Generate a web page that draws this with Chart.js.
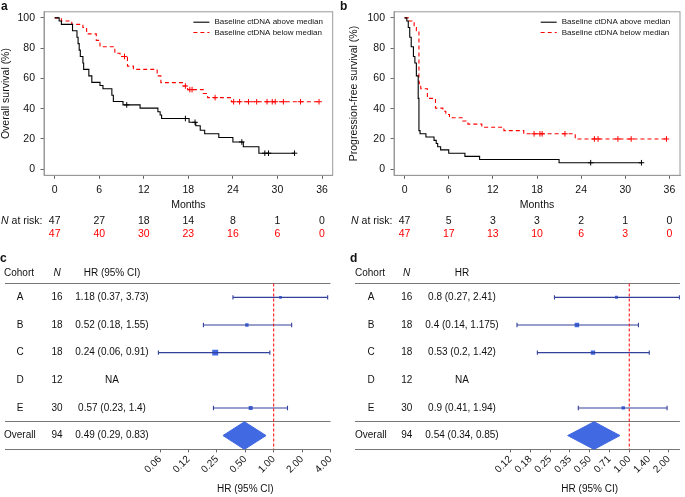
<!DOCTYPE html>
<html>
<head>
<meta charset="utf-8">
<title>Baseline ctDNA and survival</title>
<script src="https://cdn.jsdelivr.net/npm/chart.js@4.4.1/dist/chart.umd.min.js"></script>
<style>
  html, body { margin: 0; padding: 0; background: #fff; }
  #fig { position: relative; width: 685px; height: 497px; overflow: hidden; font-family: 'Liberation Sans', Arial, sans-serif; color: #111; }
  #fig canvas { position: absolute; }
  .tag { position: absolute; font-size: 12px; line-height: 12px; font-weight: bold; }
</style>
</head>
<body>
<div id="fig">
  <canvas id="osKM" width="340" height="245" style="left:0;top:0"></canvas>
  <canvas id="pfsKM" width="345" height="245" style="left:340px;top:0"></canvas>
  <canvas id="osForest" width="340" height="247" style="left:0;top:250px"></canvas>
  <canvas id="pfsForest" width="345" height="247" style="left:340px;top:250px"></canvas>
  <div class="tag" style="left:1px;top:0">a</div>
  <div class="tag" style="left:340px;top:0">b</div>
  <div class="tag" style="left:0;top:252px">c</div>
  <div class="tag" style="left:350px;top:252px">d</div>
</div>
<script>
// ---- data ----
const riskTimes = [0, 6, 12, 18, 24, 30, 36];
const survTicks = [0, 20, 40, 60, 80, 100];

// a: overall survival (step times in months, survival in %)
const osHighT = [0, 0.6, 0.9, 2.4, 3.0, 3.15, 3.3, 3.45, 3.8, 3.9, 4.6, 5.0, 6.1, 6.5, 7.7, 7.9, 9.2, 11.5, 13.9, 14.2, 14.4, 18.1, 19.0, 19.6, 20.2, 22.1, 24.0, 25.4, 27.5, 32.3];
const osHighS = [100, 97.9, 95.7, 91.5, 87.2, 83.0, 78.7, 74.5, 70.2, 66.0, 61.7, 57.4, 55.3, 53.2, 48.9, 44.7, 42.5, 40.4, 38.0, 35.8, 33.5, 31.0, 28.7, 25.8, 23.4, 21.0, 18.0, 14.9, 10.6, 10.6];
const osHighCens = [9.7, 17.6, 18.9, 25.2, 28.3, 28.8, 32.3];
const osLowT = [0, 0.9, 2.3, 3.8, 4.3, 5.6, 6.1, 8.1, 8.8, 9.8, 10.6, 13.8, 14.3, 17.2, 17.9, 20.0, 20.6, 23.8, 35.6];
const osLowS = [100, 97.9, 95.7, 93.6, 89.4, 85.1, 80.9, 76.6, 74.5, 68.1, 66.0, 61.7, 57.2, 55.0, 52.6, 50.0, 47.3, 44.6, 44.6];
const osLowCens = [9.4, 17.6, 18.2, 18.5, 21.6, 24.1, 24.9, 26.1, 27.2, 28.6, 29.3, 29.7, 30.8, 33.1, 35.6];
const osRiskHigh = [47, 27, 18, 14, 8, 1, 0];
const osRiskLow = [47, 40, 30, 23, 16, 6, 0];

// b: progression-free survival
const pfsHighT = [0, 0.3, 0.5, 0.7, 0.9, 1.2, 1.4, 1.6, 1.85, 1.95, 2.1, 2.9, 4.0, 4.3, 4.5, 4.9, 6.0, 8.2, 10.2, 21.0, 32.2];
const pfsHighS = [100, 97.9, 93.6, 87.2, 80.9, 74.5, 70.2, 61.7, 46.8, 25.5, 23.4, 21.3, 19.1, 17.0, 14.9, 12.8, 10.6, 8.5, 6.4, 4.3, 4.3];
const pfsHighCens = [25.3, 32.2];
const pfsLowT = [0, 0.5, 1.3, 1.6, 1.95, 2.0, 2.2, 3.1, 4.2, 5.2, 5.6, 6.1, 7.9, 8.6, 10.5, 13.5, 16.2, 23.2, 35.6];
const pfsLowS = [100, 97.9, 93.6, 91.5, 57.4, 55.3, 53.2, 46.8, 40.4, 38.3, 36.2, 34.0, 31.9, 29.8, 27.7, 25.5, 23.4, 20.0, 20.0];
const pfsLowCens = [17.6, 18.4, 18.7, 21.8, 25.8, 26.3, 29.0, 30.8, 35.6];
const pfsRiskHigh = [47, 5, 3, 3, 2, 1, 0];
const pfsRiskLow = [47, 17, 13, 10, 6, 3, 0];

// c, d: hazard ratios by cohort
const cohorts = ['A', 'B', 'C', 'D', 'E'];
const cohortN = [16, 18, 18, 12, 30];
const totalN = 94;
const osHR = [1.18, 0.52, 0.24, null, 0.57];
const osLo = [0.37, 0.18, 0.06, null, 0.23];
const osHi = [3.73, 1.55, 0.91, null, 1.4];
const osOverall = [0.49, 0.29, 0.83];
const pfsHR = [0.8, 0.4, 0.53, null, 0.9];
const pfsLo = [0.27, 0.14, 0.2, null, 0.41];
const pfsHi = [2.41, 1.175, 1.42, null, 1.94];
const pfsOverall = [0.54, 0.34, 0.85];
const osHRTicks = [0.0625, 0.125, 0.25, 0.5, 1, 2, 4];
const osHRTickLabels = ['0.06', '0.12', '0.25', '0.50', '1.00', '2.00', '4.00'];
const pfsHRTicks = [0.125, 0.177, 0.25, 0.354, 0.5, 0.707, 1, 1.414, 2];
const pfsHRTickLabels = ['0.12', '0.18', '0.25', '0.35', '0.50', '0.71', '1.00', '1.40', '2.00'];

// square sizes (style only)
const osMarkSize = [1.9, 2.4, 4.2, 0, 2.8];
const pfsMarkSize = [2.1, 3.2, 3.1, 0, 2.4];

// ---- drawing ----
const FONT = "'Liberation Sans', Arial, Helvetica, sans-serif";
Chart.defaults.font.family = FONT;
Chart.defaults.font.size = 10;
Chart.defaults.color = '#111';

const RED = '#ff0000';
const BLUE = '#4169e1';
const NAVY = '#33409c';

function stepAt(times, surv, t) {
  let s = surv[0];
  times.forEach((tt, i) => { if (tt <= t) s = surv[i]; });
  return s;
}

function hrText(hr, lo, hi) {
  return hr + ' (' + lo + ', ' + hi + ')';
}

function kmDecor(riskRows) {
  return {
    id: 'kmDecor',
    beforeDatasetsDraw(chart) {
      const {ctx, chartArea: a} = chart;
      ctx.save();
      ctx.strokeStyle = '#999';
      ctx.lineWidth = 1;
      ctx.strokeRect(a.left, a.top, a.right - a.left, a.bottom - a.top);
      ctx.restore();
    },
    afterDraw(chart) {
      const {ctx, chartArea: a} = chart;
      const xs = chart.scales.x;
      ctx.save();
      // legend, top right inside the plot
      ctx.font = '8px ' + FONT;
      ctx.textBaseline = 'middle';
      ctx.textAlign = 'left';
      const items = chart.data.datasets.filter(d => d.label);
      const w = Math.max(...items.map(d => ctx.measureText(d.label).width));
      const tx = a.right - 9.8 - w;
      items.forEach((d, i) => {
        const y = a.top + 10.4 + i * 10.3;
        ctx.strokeStyle = d.borderColor;
        ctx.lineWidth = d.borderWidth;
        ctx.setLineDash(d.borderDash || []);
        ctx.beginPath();
        ctx.moveTo(tx - 21, y);
        ctx.lineTo(tx - 5, y);
        ctx.stroke();
        ctx.setLineDash([]);
        ctx.fillStyle = '#111';
        ctx.fillText(d.label, tx, y);
      });
      // numbers at risk
      const ly = [221, 234.3];
      const lx = a.left - 1.5;
      ctx.font = '10.5px ' + FONT;
      ctx.textAlign = 'right';
      ctx.fillStyle = '#111';
      const rest = ' at risk:';
      ctx.fillText(rest, lx, ly[0]);
      const rw = ctx.measureText(rest).width;
      ctx.font = 'italic 10.5px ' + FONT;
      ctx.fillText('N', lx - rw, ly[0]);
      ctx.font = '10.5px ' + FONT;
      ctx.textAlign = 'center';
      riskRows.forEach((vals, r) => {
        ctx.fillStyle = r === 0 ? '#111' : RED;
        vals.forEach((v, i) => ctx.fillText(String(v), xs.getPixelForValue(riskTimes[i]), ly[r]));
      });
      ctx.restore();
    }
  };
}

function kmChart(id, c) {
  return new Chart(document.getElementById(id), {
    type: 'line',
    data: {
      datasets: [
        {
          label: 'Baseline ctDNA above median',
          data: c.highT.map((t, i) => ({x: t, y: c.highS[i]})),
          borderColor: '#000', borderWidth: 1.1, stepped: true, pointRadius: 0
        },
        {
          label: 'Baseline ctDNA below median',
          data: c.lowT.map((t, i) => ({x: t, y: c.lowS[i]})),
          borderColor: RED, borderWidth: 1.1, borderDash: [4, 3], stepped: true, pointRadius: 0
        },
        {
          data: c.highCens.map(t => ({x: t, y: stepAt(c.highT, c.highS, t)})),
          showLine: false, pointStyle: 'cross', pointRadius: 2.8,
          pointBorderColor: '#000', pointBorderWidth: 1
        },
        {
          data: c.lowCens.map(t => ({x: t, y: stepAt(c.lowT, c.lowS, t)})),
          showLine: false, pointStyle: 'cross', pointRadius: 2.8,
          pointBorderColor: RED, pointBorderWidth: 1
        }
      ]
    },
    options: {
      responsive: false,
      animation: false,
      events: [],
      layout: {padding: {left: 0, top: 5.3, right: c.padRight, bottom: 33.7}},
      plugins: {legend: {display: false}, tooltip: {enabled: false}},
      scales: {
        x: {
          type: 'linear', min: -1.44, max: 37.44,
          afterBuildTicks: s => { s.ticks = riskTimes.map(v => ({value: v})); },
          afterFit: s => { s.height = 36; },
          ticks: {font: {size: 10.5}, color: '#111', padding: 5, maxRotation: 0},
          grid: {drawOnChartArea: false, tickLength: 3.5, color: '#666'},
          border: {color: '#999'},
          title: {display: true, text: 'Months', font: {size: 10.5}, color: '#111', padding: 0}
        },
        y: {
          type: 'linear', min: -4, max: 104,
          afterBuildTicks: s => { s.ticks = survTicks.map(v => ({value: v})); },
          afterFit: s => { s.width = c.yWidth; },
          ticks: {font: {size: 10.5}, color: '#111', padding: 5.5},
          grid: {drawOnChartArea: false, tickLength: 3.5, color: '#666'},
          border: {color: '#999'},
          title: {display: true, text: c.yTitle, font: {size: 10.5}, color: '#111', padding: {top: c.titlePad, bottom: 0}}
        }
      }
    },
    plugins: [kmDecor(c.risk)]
  });
}

function forestDecor(f) {
  return {
    id: 'forestDecor',
    afterDraw(chart) {
      const {ctx, chartArea: a} = chart;
      const xs = chart.scales.x;
      const ys = chart.scales.y;
      const font = '10px ' + FONT;
      ctx.save();
      ctx.fillStyle = '#111';
      ctx.textBaseline = 'middle';
      const hy = a.top - 10.5;
      ctx.font = font;
      ctx.textAlign = 'left';
      ctx.fillText('Cohort', f.cols[0], hy);
      ctx.textAlign = 'center';
      ctx.fillText(f.hrHead, f.cols[3], hy);
      ctx.font = 'italic ' + font;
      ctx.fillText('N', f.cols[2], hy);
      ctx.font = font;
      cohorts.forEach((name, i) => {
        const y = ys.getPixelForValue(i + 1);
        ctx.fillText(name, f.cols[1], y);
        ctx.fillText(String(cohortN[i]), f.cols[2], y);
        ctx.fillText(f.hr[i] == null ? 'NA' : hrText(f.hr[i], f.lo[i], f.hi[i]), f.cols[3], y);
      });
      const oy = ys.getPixelForValue(6);
      ctx.textAlign = 'left';
      ctx.fillText('Overall', f.cols[0], oy);
      ctx.textAlign = 'center';
      ctx.fillText(String(totalN), f.cols[2], oy);
      ctx.fillText(hrText(f.overall[0], f.overall[1], f.overall[2]), f.cols[3], oy);
      // axis title, centred under the tick range
      const t = xs.ticks;
      const mid = (xs.getPixelForValue(t[0].value) + xs.getPixelForValue(t[t.length - 1].value)) / 2;
      ctx.fillText('HR (95% CI)', mid, 239);
      ctx.restore();
    }
  };
}

function forestChart(id, f) {
  const ds = [{
    data: [{x: 0, y: 0.5}, {x: 0, y: 6.5}],
    borderColor: RED, borderWidth: 1, borderDash: [3, 2], pointRadius: 0
  }];
  f.hr.forEach((v, i) => {
    if (v == null) return;
    ds.push({
      data: [{x: Math.log2(f.lo[i]), y: i + 1}, {x: Math.log2(f.hi[i]), y: i + 1}],
      borderColor: NAVY, borderWidth: 1.1,
      pointStyle: 'line', pointRotation: 90, pointRadius: 2.2,
      pointBorderColor: NAVY, pointBorderWidth: 1.1
    });
  });
  const rowsIn = f.hr.map((v, i) => i).filter(i => f.hr[i] != null);
  ds.push({
    data: rowsIn.map(i => ({x: Math.log2(f.hr[i]), y: i + 1})),
    showLine: false, pointStyle: 'rect',
    pointRadius: rowsIn.map(i => f.marks[i]),
    pointBackgroundColor: BLUE, pointBorderWidth: 0
  });
  const est = Math.log2(f.overall[0]), lo = Math.log2(f.overall[1]), hi = Math.log2(f.overall[2]);
  ds.push({
    data: [{x: lo, y: 6}, {x: est, y: 5.5}, {x: hi, y: 6}, {x: est, y: 6.5}, {x: lo, y: 6}],
    fill: 'shape', backgroundColor: BLUE, borderColor: BLUE, borderWidth: 1, pointRadius: 0
  });

  return new Chart(document.getElementById(id), {
    type: 'line',
    data: {datasets: ds},
    options: {
      responsive: false,
      animation: false,
      events: [],
      layout: {padding: {left: f.padLeft, right: f.padRight, top: 33.5, bottom: 0}},
      plugins: {legend: {display: false}, tooltip: {enabled: false}},
      scales: {
        x: {
          type: 'linear', min: f.min, max: f.max,
          afterBuildTicks: s => { s.ticks = f.ticks.map(v => ({value: Math.log2(v)})); },
          afterFit: s => { s.height = 47.6; },
          ticks: {
            autoSkip: false, minRotation: 45, maxRotation: 45, padding: 1,
            font: {size: 10}, color: '#111',
            callback: (v, i) => f.tickLabels[i]
          },
          grid: {drawOnChartArea: false, tickLength: 3, color: '#666'},
          border: {color: '#777'}
        },
        y: {
          type: 'linear', min: 0.5, max: 6.5, reverse: true,
          afterBuildTicks: s => { s.ticks = [0.5, 5.5, 6.5].map(v => ({value: v})); },
          afterFit: s => { s.width = 0; },
          ticks: {display: false},
          grid: {color: '#777', drawTicks: false},
          border: {display: false}
        }
      }
    },
    plugins: [forestDecor(f)]
  });
}

kmChart('osKM', {
  highT: osHighT, highS: osHighS, highCens: osHighCens,
  lowT: osLowT, lowS: osLowS, lowCens: osLowCens,
  risk: [osRiskHigh, osRiskLow],
  yTitle: 'Overall survival (%)', yWidth: 44, padRight: 7.3, titlePad: 0
});

kmChart('pfsKM', {
  highT: pfsHighT, highS: pfsHighS, highCens: pfsHighCens,
  lowT: pfsLowT, lowS: pfsLowS, lowCens: pfsLowCens,
  risk: [pfsRiskHigh, pfsRiskLow],
  yTitle: 'Progression-free survival (%)', yWidth: 54, padRight: 1.5, titlePad: 8.2
});

forestChart('osForest', {
  hr: osHR, lo: osLo, hi: osHi, overall: osOverall, marks: osMarkSize,
  ticks: osHRTicks, tickLabels: osHRTickLabels,
  min: -9.455, max: 2, padLeft: 4, padRight: 6.1,
  cols: [4, 20, 57, 112], hrHead: 'HR (95% CI)'
});

forestChart('pfsForest', {
  hr: pfsHR, lo: pfsLo, hi: pfsHi, overall: pfsOverall, marks: pfsMarkSize,
  ticks: pfsHRTicks, tickLabels: pfsHRTickLabels,
  min: -6.93, max: 1.28, padLeft: 15, padRight: 1.5,
  cols: [15, 31, 66.7, 122], hrHead: 'HR'
});
</script>
</body>
</html>
